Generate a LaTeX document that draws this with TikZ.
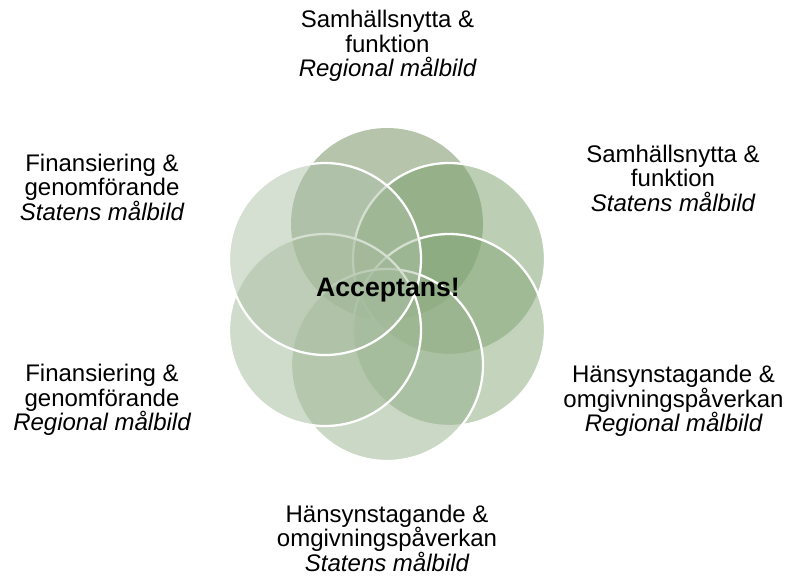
\documentclass[tikz,border=0pt]{standalone}
\usepackage{fontspec}
\setmainfont{Liberation Sans}
\definecolor{cT}{RGB}{107,137,87}
\definecolor{cUR}{RGB}{121,159,105}
\definecolor{cLR}{RGB}{135,167,121}
\definecolor{cB}{RGB}{149,177,139}
\definecolor{cLL}{RGB}{161,185,151}
\definecolor{cUL}{RGB}{171,191,165}
\tikzset{
  venn/.style={circle, minimum size=144pt, inner sep=0pt, fill opacity=0.5, draw=white, line width=1.7pt},
  lbl/.style={align=center, font=\fontsize{18}{18.4}\selectfont, inner sep=0pt, text=black}
}
\begin{document}
\begin{tikzpicture}[x=0.75pt,y=-0.75pt]
\useasboundingbox (0,0) rectangle (787,576);
\node[venn, fill=cT, draw=none] (top) at (387,224) {};
\node[venn, fill=cUR] (ur) at (449,259) {};
\node[venn, fill=cLR] (lr) at (449,330) {};
\node[venn, fill=cB] (bot) at (387,365) {};
\node[venn, fill=cLL] (ll) at (325,330) {};
\node[venn, fill=cUL] (ul) at (325,259) {};
\node[font=\fontsize{20}{24}\selectfont\bfseries, inner sep=0pt] (acc) at (388,290) {Acceptans!};
\node[lbl] (ttop) at (387.5,46) {Samhällsnytta \&\\funktion\\\itshape Regional målbild};
\node[lbl] (tur) at (673,178) {Samhällsnytta \&\\funktion\\\itshape Statens målbild};
\node[lbl] (tlr) at (673.5,401) {Hänsynstagande \&\\omgivningspåverkan\\\itshape Regional målbild};
\node[lbl] (tbot) at (387,538) {Hänsynstagande \&\\omgivningspåverkan\\\itshape Statens målbild};
\node[lbl] (tll) at (102,400) {Finansiering \&\\genomförande\\\itshape Regional målbild};
\node[lbl] (tul) at (102,187) {Finansiering \&\\genomförande\\\itshape Statens målbild};
\end{tikzpicture}
\end{document}
